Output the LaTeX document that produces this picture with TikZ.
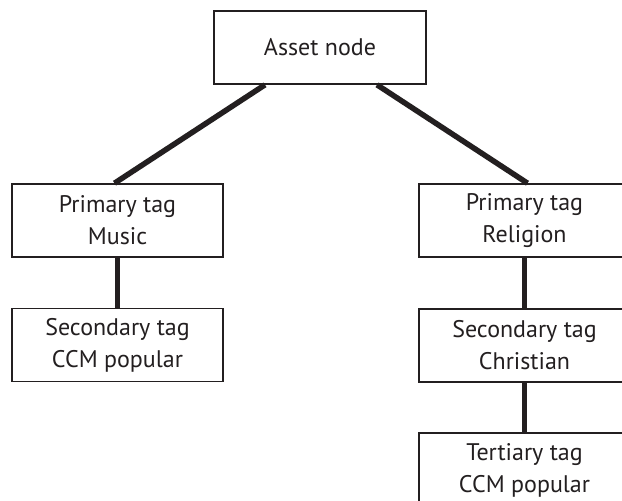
\documentclass[tikz,border=0pt]{standalone}
\usepackage{fontspec}
\setmainfont{PT Sans}
\definecolor{ink}{HTML}{231F20}
\begin{document}
\begin{tikzpicture}[x=1pt,y=-1pt,
  box/.style={draw=ink, line width=1.6pt, fill=white, rectangle, minimum width=211pt, minimum height=73pt,
    align=center, inner sep=0pt, text=ink, font=\fontsize{24}{32}\selectfont},
  link/.style={draw=ink, line width=5.5pt},
  vlink/.style={draw=ink, line width=4.5pt}]
\useasboundingbox (0,0) rectangle (622,501);
\clip (0,0) rectangle (622,501);
\fill[white] (0,0) rectangle (622,501);
\node[box, minimum width=212pt] (asset) at (320,47.5) {Asset node};
\node[box] (pm) at (117.5,220.5) {Primary tag\\Music};
\node[box] (sm) at (117.5,345) {Secondary tag\\CCM popular};
\node[box] (pr) at (524.5,220.5) {Primary tag\\Religion};
\node[box] (sc) at (524.5,345.5) {Secondary tag\\Christian};
\node[box, minimum height=74pt] (tc) at (524.5,470) {Tertiary tag\\CCM popular};
\draw[link] ([xshift=-55pt]asset.south) -- ([xshift=-3pt]pm.north);
\draw[link] ([xshift=57pt]asset.south) -- ([xshift=3pt]pr.north);
\draw[vlink] (pm.south) -- (sm.north);
\draw[vlink] (pr.south) -- (sc.north);
\draw[vlink] (sc.south) -- (tc.north);
\end{tikzpicture}
\end{document}
